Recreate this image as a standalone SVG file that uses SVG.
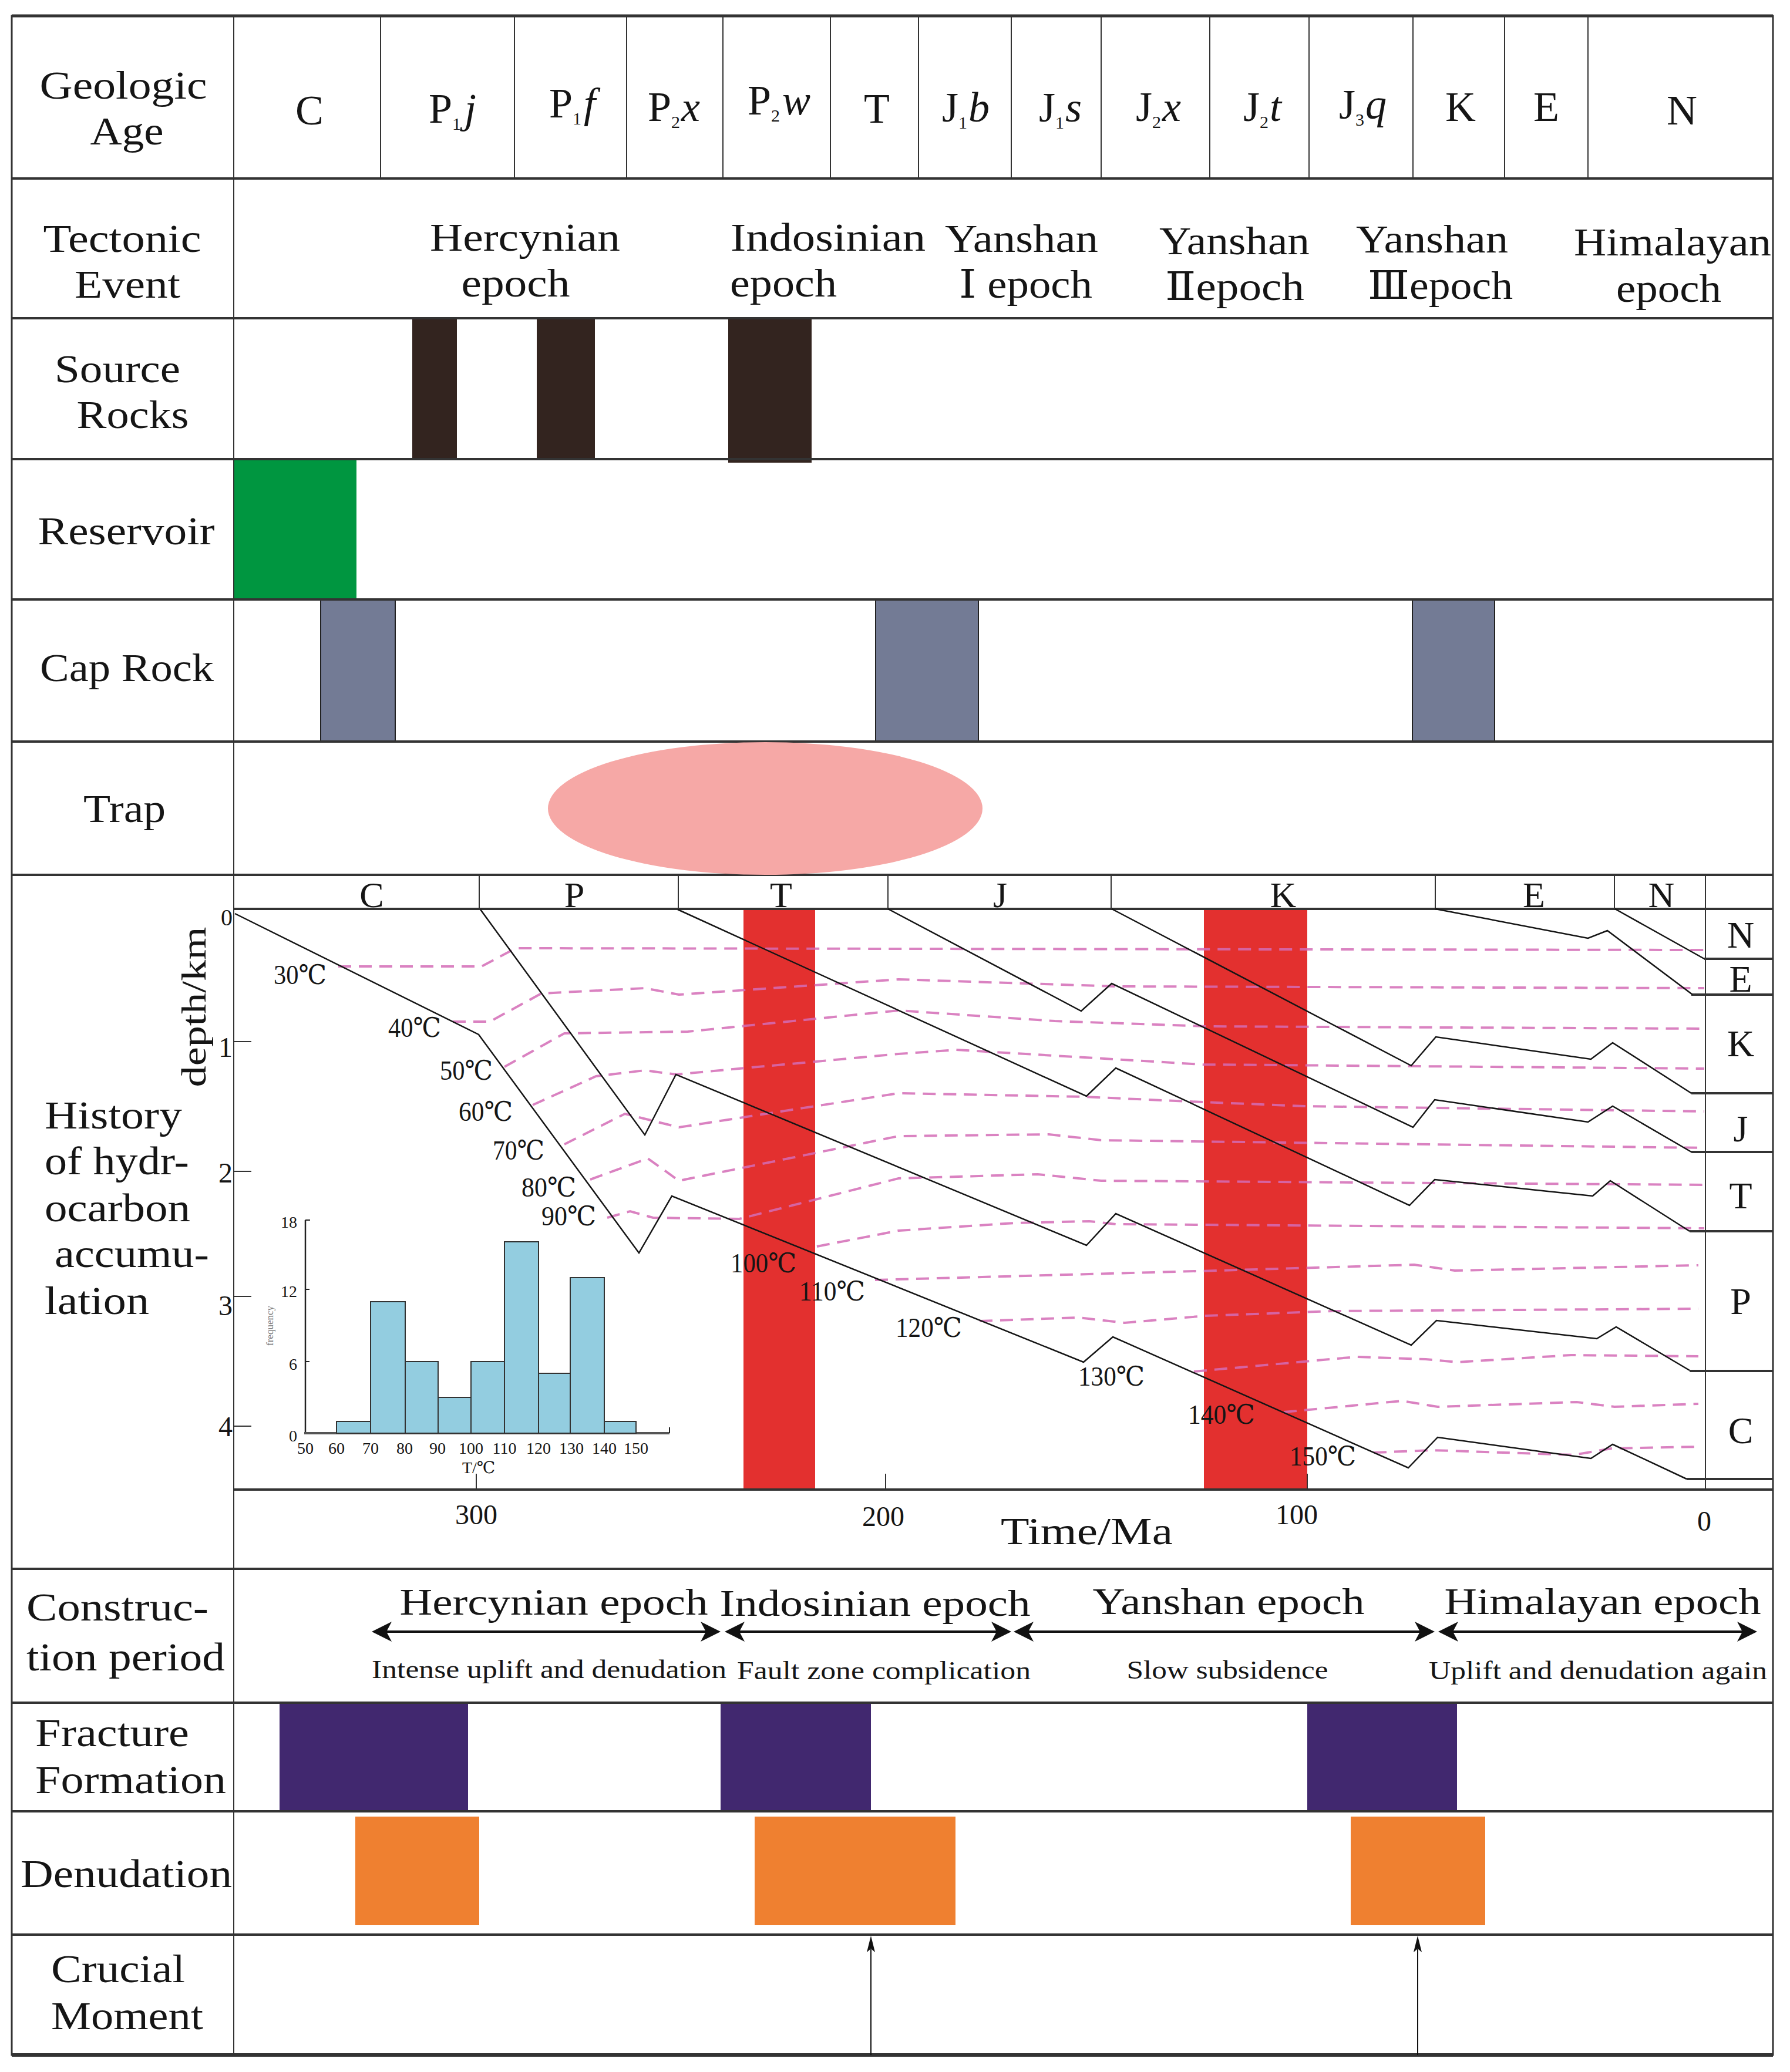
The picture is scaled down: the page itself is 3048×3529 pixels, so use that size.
<svg xmlns="http://www.w3.org/2000/svg" width="3048" height="3529" viewBox="0 0 3048 3529">
<style>
.t{font-family:"Liberation Serif","DejaVu Serif","Noto Sans CJK SC",serif;fill:#151515}
.L{font-size:68px}
.G{font-size:72px}
.s{font-size:30px}
.i{font-style:italic}
.tl{font-size:46px}
.cp{font-size:64px}
.cs{font-size:44px}
.ax{font-size:48px}
.hs{font-size:28px}
.grid{stroke:#333;fill:none}
.bur{stroke:#151515;stroke-width:2.5;fill:none}
.iso{stroke:#d46cb6;stroke-width:4;stroke-dasharray:22 13;fill:none;opacity:.85}
.bar{fill:#93cde0;stroke:#333;stroke-width:2}
.src{fill:#33241f}
.cap{fill:#737b95;stroke:#222;stroke-width:2}
.frac{fill:#41286f}
.den{fill:#ef8030}
.red{fill:#e3302f}
</style>
<defs>
<marker id="ah" viewBox="-16 -18 38 36" refX="0" refY="0" markerWidth="38" markerHeight="36" markerUnits="userSpaceOnUse" orient="auto-start-reverse"><path d="M20,0 L-14,-17 L-5,0 L-14,17 Z" fill="#111"/></marker>
<marker id="up" viewBox="-6 -8 30 16" refX="0" refY="0" markerWidth="30" markerHeight="16" markerUnits="userSpaceOnUse" orient="auto"><path d="M23,0 L-5,-7 L1,0 L-5,7 Z" fill="#111"/></marker>
</defs>
<rect width="3048" height="3529" fill="#fff"/>

<g id="source-rocks">
<rect class="src" x="702" y="543" width="76" height="239"/>
<rect class="src" x="914" y="543" width="99" height="239"/>
<rect class="src" x="1240" y="543" width="142" height="245"/>
</g>
<g id="reservoir"><rect x="398" y="782" width="209" height="239" fill="#009640"/></g>
<g id="cap-rock">
<rect class="cap" x="546" y="1022" width="127" height="240"/>
<rect class="cap" x="1491" y="1022" width="175" height="240"/>
<rect class="cap" x="2405" y="1022" width="140" height="240"/>
</g>
<g id="thermal-events">
<rect class="red" x="1266" y="1550" width="122" height="987"/>
<rect class="red" x="2050" y="1550" width="176" height="987"/>
</g>
<g id="fracture-formation">
<rect class="frac" x="476" y="2900" width="321" height="185"/>
<rect class="frac" x="1227" y="2900" width="256" height="185"/>
<rect class="frac" x="2226" y="2900" width="255" height="185"/>
</g>
<g id="denudation">
<rect class="den" x="605" y="3094" width="211" height="185"/>
<rect class="den" x="1285" y="3094" width="342" height="185"/>
<rect class="den" x="2300" y="3094" width="229" height="185"/>
</g>

<g id="grid">
<rect class="grid" x="20" y="27" width="2999" height="3473" stroke-width="3"/>
<line class="grid" x1="20" y1="27" x2="3019" y2="27" stroke-width="5"/>
<line class="grid" x1="20" y1="3500" x2="3019" y2="3500" stroke-width="6" stroke="#1a1a1a"/>
<g stroke-width="4" class="grid">
<line x1="20" y1="304" x2="3019" y2="304"/>
<line x1="20" y1="542" x2="3019" y2="542"/>
<line x1="20" y1="782" x2="3019" y2="782"/>
<line x1="20" y1="1021" x2="3019" y2="1021"/>
<line x1="20" y1="1263" x2="3019" y2="1263"/>
<line x1="20" y1="1490" x2="3019" y2="1490"/>
<line x1="20" y1="2672" x2="3019" y2="2672"/>
<line x1="20" y1="2900" x2="3019" y2="2900"/>
<line x1="20" y1="3085" x2="3019" y2="3085"/>
<line x1="20" y1="3295" x2="3019" y2="3295"/>
<line x1="398" y1="1548" x2="3019" y2="1548"/>
<line x1="398" y1="2537" x2="3019" y2="2537"/>
</g>
<line class="grid" x1="398" y1="27" x2="398" y2="3500" stroke-width="2"/>
<g class="grid" stroke-width="2">
<line x1="648" y1="27" x2="648" y2="304"/>
<line x1="876" y1="27" x2="876" y2="304"/>
<line x1="1067" y1="27" x2="1067" y2="304"/>
<line x1="1231" y1="27" x2="1231" y2="304"/>
<line x1="1414" y1="27" x2="1414" y2="304"/>
<line x1="1564" y1="27" x2="1564" y2="304"/>
<line x1="1722" y1="27" x2="1722" y2="304"/>
<line x1="1875" y1="27" x2="1875" y2="304"/>
<line x1="2060" y1="27" x2="2060" y2="304"/>
<line x1="2229" y1="27" x2="2229" y2="304"/>
<line x1="2406" y1="27" x2="2406" y2="304"/>
<line x1="2562" y1="27" x2="2562" y2="304"/>
<line x1="2704" y1="27" x2="2704" y2="304"/>
<line x1="816" y1="1490" x2="816" y2="1548"/>
<line x1="1155" y1="1490" x2="1155" y2="1548"/>
<line x1="1512" y1="1490" x2="1512" y2="1548"/>
<line x1="1892" y1="1490" x2="1892" y2="1548"/>
<line x1="2444" y1="1490" x2="2444" y2="1548"/>
<line x1="2749" y1="1490" x2="2749" y2="1548"/>
<line x1="2904" y1="1490" x2="2904" y2="2537"/>
<line x1="811" y1="2510" x2="811" y2="2537"/>
<line x1="1508" y1="2510" x2="1508" y2="2537"/>
<line x1="2226" y1="2510" x2="2226" y2="2537"/>
<line x1="398" y1="1774" x2="428" y2="1774"/>
<line x1="398" y1="1995" x2="428" y2="1995"/>
<line x1="398" y1="2208" x2="428" y2="2208"/>
<line x1="398" y1="2429" x2="428" y2="2429"/>
</g>
<g class="grid" stroke-width="4">
<line x1="2902" y1="1633" x2="3019" y2="1633"/>
<line x1="2880" y1="1694" x2="3019" y2="1694"/>
<line x1="2880" y1="1862" x2="3019" y2="1862"/>
<line x1="2880" y1="1962" x2="3019" y2="1962"/>
<line x1="2877" y1="2097" x2="3019" y2="2097"/>
<line x1="2877" y1="2335" x2="3019" y2="2335"/>
<line x1="2872" y1="2519" x2="3019" y2="2519"/>
</g>
</g>

<g id="trap"><ellipse cx="1303" cy="1377" rx="370" ry="113" fill="#f6a8a6"/></g>

<g id="isotherms">
<path class="iso" d="M576,1646 L820,1646 L878,1615 L2902,1618"/>
<path class="iso" d="M771,1740 L834,1740 L922,1692 L1098,1683 L1156,1694 L1530,1668 L1900,1680 L2902,1683"/>
<path class="iso" d="M859,1817 L961,1760 L1171,1757 L1530,1721 L1796,1739 L2053,1748 L2902,1752"/>
<path class="iso" d="M907,1882 L1015,1833 L1098,1823 L1151,1830 L1530,1795 L1628,1788 L2048,1813 L2902,1820"/>
<path class="iso" d="M961,1949 L1064,1897 L1156,1920 L1530,1862 L1845,1868 L2048,1877 L2221,1884 L2902,1893"/>
<path class="iso" d="M1005,2009 L1103,1973 L1156,2011 L1530,1935 L1786,1932 L1875,1942 L2902,1955"/>
<path class="iso" d="M1034,2074 L1073,2063 L1112,2074 L1259,2076 L1530,2007 L1767,2000 L1875,2011 L2902,2018"/>
<path class="iso" d="M1391,2123 L1530,2096 L1727,2083 L1855,2080 L1900,2085 L2902,2092"/>
<path class="iso" d="M1490,2180 L2073,2164 L2408,2154 L2477,2164 L2892,2155"/>
<path class="iso" d="M1668,2250 L1836,2244 L1915,2253 L2053,2241 L2270,2233 L2892,2229"/>
<path class="iso" d="M2033,2336 L2309,2311 L2428,2315 L2482,2320 L2675,2308 L2892,2310"/>
<path class="iso" d="M2186,2405 L2388,2386 L2448,2396 L2685,2388 L2749,2396 L2892,2391"/>
<path class="iso" d="M2339,2474 L2440,2470 L2680,2478 L2744,2467 L2892,2464"/>
</g>

<g id="burial-curves">
<path class="bur" d="M400,1556 L815,1762 L1088,2134 L1144,2037 L1845,2320 L1895,2277 L2398,2500 L2448,2448 L2709,2484 L2746,2460 L2872,2519"/>
<path class="bur" d="M818,1549 L1098,1933 L1151,1830 L1850,2121 L1900,2067 L2403,2291 L2446,2249 L2719,2280 L2752,2260 L2877,2334"/>
<path class="bur" d="M1154,1549 L1850,1867 L1900,1819 L2400,2053 L2443,2009 L2712,2037 L2742,2011 L2877,2097"/>
<path class="bur" d="M1512,1548 L1841,1722 L1893,1675 L2406,1920 L2443,1873 L2704,1911 L2746,1884 L2880,1962"/>
<path class="bur" d="M1893,1548 L2403,1815 L2445,1766 L2709,1804 L2746,1776 L2880,1862"/>
<path class="bur" d="M2444,1548 L2704,1598 L2737,1585 L2882,1694"/>
<path class="bur" d="M2750,1548 L2902,1633"/>
</g>

<g id="histogram">
<line x1="520" y1="2078" x2="520" y2="2441" stroke="#222" stroke-width="2.5"/>
<line x1="518" y1="2441" x2="1140" y2="2441" stroke="#555" stroke-width="4"/>
<line x1="1140" y1="2431" x2="1140" y2="2441" stroke="#222" stroke-width="2"/>
<g stroke="#222" stroke-width="2"><line x1="520" y1="2078" x2="528" y2="2078"/><line x1="520" y1="2196" x2="527" y2="2196"/><line x1="520" y1="2319" x2="527" y2="2319"/></g>
<rect class="bar" x="573" y="2421" width="58" height="20"/>
<rect class="bar" x="631" y="2217" width="59" height="224"/>
<rect class="bar" x="690" y="2319" width="56" height="122"/>
<rect class="bar" x="746" y="2380" width="56" height="61"/>
<rect class="bar" x="802" y="2319" width="57" height="122"/>
<rect class="bar" x="859" y="2115" width="58" height="326"/>
<rect class="bar" x="917" y="2339" width="54" height="102"/>
<rect class="bar" x="971" y="2176" width="58" height="265"/>
<rect class="bar" x="1029" y="2421" width="54" height="20"/>
<g class="t hs" text-anchor="end"><text x="506" y="2455">0</text><text x="506" y="2333">6</text><text x="506" y="2209">12</text><text x="506" y="2091">18</text></g>
<g class="t hs" text-anchor="middle">
<text x="520" y="2476">50</text><text x="573" y="2476">60</text><text x="631" y="2476">70</text><text x="689" y="2476">80</text><text x="745" y="2476">90</text><text x="802" y="2476">100</text><text x="859" y="2476">110</text><text x="917" y="2476">120</text><text x="973" y="2476">130</text><text x="1029" y="2476">140</text><text x="1083" y="2476">150</text>
<text x="815" y="2509">T/℃</text>
</g>
<text class="t" x="0" y="0" font-size="17" style="fill:#777" text-anchor="middle" transform="translate(465,2258) rotate(-90)">frequency</text>
</g>

<g id="construction-period">
<text class="t cp" x="943" y="2750" text-anchor="middle" textLength="525" lengthAdjust="spacingAndGlyphs">Hercynian epoch</text>
<text class="t cp" x="1490" y="2752" text-anchor="middle" textLength="529" lengthAdjust="spacingAndGlyphs">Indosinian epoch</text>
<text class="t cp" x="2092" y="2749" text-anchor="middle" textLength="463" lengthAdjust="spacingAndGlyphs">Yanshan epoch</text>
<text class="t cp" x="2729" y="2749" text-anchor="middle" textLength="539" lengthAdjust="spacingAndGlyphs">Himalayan epoch</text>
<text class="t cs" x="935" y="2858" text-anchor="middle" textLength="604" lengthAdjust="spacingAndGlyphs">Intense uplift and denudation</text>
<text class="t cs" x="1505" y="2860" text-anchor="middle" textLength="500" lengthAdjust="spacingAndGlyphs">Fault zone complication</text>
<text class="t cs" x="2090" y="2859" text-anchor="middle" textLength="343" lengthAdjust="spacingAndGlyphs">Slow subsidence</text>
<text class="t cs" x="2721" y="2860" text-anchor="middle" textLength="576" lengthAdjust="spacingAndGlyphs">Uplift and denudation again</text>
</g>

<g id="connectors" stroke="#111" fill="none">
<line x1="653" y1="2779" x2="1207" y2="2779" stroke-width="4" marker-start="url(#ah)" marker-end="url(#ah)"/>
<line x1="1254" y1="2779" x2="1702" y2="2779" stroke-width="4" marker-start="url(#ah)" marker-end="url(#ah)"/>
<line x1="1746" y1="2779" x2="2423" y2="2779" stroke-width="4" marker-start="url(#ah)" marker-end="url(#ah)"/>
<line x1="2469" y1="2779" x2="2972" y2="2779" stroke-width="4" marker-start="url(#ah)" marker-end="url(#ah)"/>
<line x1="1483" y1="3500" x2="1483" y2="3320" stroke-width="2" marker-end="url(#up)"/>
<line x1="2414" y1="3500" x2="2414" y2="3320" stroke-width="2" marker-end="url(#up)"/>
</g>

<g id="geologic-age">
<text class="t G" x="527" y="212" text-anchor="middle">C</text>
<text class="t G" x="730" y="209">P<tspan class="s" dy="12">1</tspan><tspan class="i" dx="6" dy="-12">j</tspan></text>
<text class="t G" x="935" y="200">P<tspan class="s" dy="12">1</tspan><tspan class="i" dx="4" dy="-12">f</tspan></text>
<text class="t G" x="1103" y="206">P<tspan class="s" dy="12">2</tspan><tspan class="i" dx="2" dy="-12">x</tspan></text>
<text class="t G" x="1273" y="195">P<tspan class="s" dy="12">2</tspan><tspan class="i" dx="4" dy="-12">w</tspan></text>
<text class="t G" x="1493" y="209" text-anchor="middle">T</text>
<text class="t G" x="1604" y="207">J<tspan class="s" dy="12">1</tspan><tspan class="i" dx="2" dy="-12">b</tspan></text>
<text class="t G" x="1769" y="207">J<tspan class="s" dy="12">1</tspan><tspan class="i" dx="2" dy="-12">s</tspan></text>
<text class="t G" x="1934" y="206">J<tspan class="s" dy="12">2</tspan><tspan class="i" dx="2" dy="-12">x</tspan></text>
<text class="t G" x="2117" y="206">J<tspan class="s" dy="12">2</tspan><tspan class="i" dx="2" dy="-12">t</tspan></text>
<text class="t G" x="2280" y="202">J<tspan class="s" dy="12">3</tspan><tspan class="i" dx="2" dy="-12">q</tspan></text>
<text class="t G" x="2487" y="206" text-anchor="middle">K</text>
<text class="t G" x="2633" y="206" text-anchor="middle">E</text>
<text class="t G" x="2864" y="212" text-anchor="middle">N</text>
</g>

<g id="tectonic-event">
<text class="t L" x="894" y="427" text-anchor="middle" textLength="324" lengthAdjust="spacingAndGlyphs">Hercynian</text>
<text class="t L" x="878" y="505" text-anchor="middle" textLength="185" lengthAdjust="spacingAndGlyphs">epoch</text>
<text class="t L" x="1244" y="427" textLength="332" lengthAdjust="spacingAndGlyphs">Indosinian</text>
<text class="t L" x="1243" y="505" textLength="182" lengthAdjust="spacingAndGlyphs">epoch</text>
<text class="t L" x="1609" y="429" textLength="261" lengthAdjust="spacingAndGlyphs">Yanshan</text>
<text class="t L" x="1633" y="507" textLength="227" lengthAdjust="spacingAndGlyphs">Ⅰ epoch</text>
<text class="t L" x="1974" y="433" textLength="256" lengthAdjust="spacingAndGlyphs">Yanshan</text>
<text class="t L" x="1984" y="511" textLength="237" lengthAdjust="spacingAndGlyphs">Ⅱepoch</text>
<text class="t L" x="2309" y="430" textLength="259" lengthAdjust="spacingAndGlyphs">Yanshan</text>
<text class="t L" x="2329" y="509" textLength="247" lengthAdjust="spacingAndGlyphs">Ⅲepoch</text>
<text class="t L" x="2680" y="435" textLength="336" lengthAdjust="spacingAndGlyphs">Himalayan</text>
<text class="t L" x="2752" y="514" textLength="179" lengthAdjust="spacingAndGlyphs">epoch</text>
</g>

<g id="row-labels">
<text class="t L" x="210" y="168" text-anchor="middle" textLength="285" lengthAdjust="spacingAndGlyphs">Geologic</text>
<text class="t L" x="216" y="246" text-anchor="middle" textLength="125" lengthAdjust="spacingAndGlyphs">Age</text>
<text class="t L" x="208" y="429" text-anchor="middle" textLength="269" lengthAdjust="spacingAndGlyphs">Tectonic</text>
<text class="t L" x="217" y="507" text-anchor="middle" textLength="180" lengthAdjust="spacingAndGlyphs">Event</text>
<text class="t L" x="200" y="651" text-anchor="middle" textLength="214" lengthAdjust="spacingAndGlyphs">Source</text>
<text class="t L" x="226" y="729" text-anchor="middle" textLength="191" lengthAdjust="spacingAndGlyphs">Rocks</text>
<text class="t L" x="215" y="927" text-anchor="middle" textLength="301" lengthAdjust="spacingAndGlyphs">Reservoir</text>
<text class="t L" x="216" y="1160" text-anchor="middle" textLength="296" lengthAdjust="spacingAndGlyphs">Cap Rock</text>
<text class="t L" x="212" y="1400" text-anchor="middle" textLength="140" lengthAdjust="spacingAndGlyphs">Trap</text>
<text class="t L" x="76" y="1922" textLength="234" lengthAdjust="spacingAndGlyphs">History</text>
<text class="t L" x="76" y="2000" textLength="246" lengthAdjust="spacingAndGlyphs">of hydr-</text>
<text class="t L" x="76" y="2080" textLength="248" lengthAdjust="spacingAndGlyphs">ocarbon</text>
<text class="t L" x="93" y="2158" textLength="263" lengthAdjust="spacingAndGlyphs">accumu-</text>
<text class="t L" x="76" y="2238" textLength="178" lengthAdjust="spacingAndGlyphs">lation</text>
<text class="t L" x="45" y="2760" textLength="310" lengthAdjust="spacingAndGlyphs">Construc-</text>
<text class="t L" x="45" y="2845" textLength="338" lengthAdjust="spacingAndGlyphs">tion period</text>
<text class="t L" x="60" y="2974" textLength="262" lengthAdjust="spacingAndGlyphs">Fracture</text>
<text class="t L" x="60" y="3054" textLength="325" lengthAdjust="spacingAndGlyphs">Formation</text>
<text class="t L" x="35" y="3214" textLength="360" lengthAdjust="spacingAndGlyphs">Denudation</text>
<text class="t L" x="87" y="3376" textLength="228" lengthAdjust="spacingAndGlyphs">Crucial</text>
<text class="t L" x="87" y="3456" textLength="259" lengthAdjust="spacingAndGlyphs">Moment</text>
</g>

<g id="history-axes">
<g class="t" font-size="62" text-anchor="middle">
<text x="633" y="1545">C</text><text x="978" y="1545">P</text><text x="1330" y="1545">T</text><text x="1703" y="1545">J</text><text x="2185" y="1545">K</text><text x="2612" y="1545">E</text><text x="2829" y="1545">N</text>
</g>
<g class="t" font-size="64" text-anchor="middle">
<text x="2964" y="1614">N</text><text x="2964" y="1689">E</text><text x="2964" y="1799">K</text><text x="2964" y="1944">J</text><text x="2964" y="2058">T</text><text x="2964" y="2238">P</text><text x="2964" y="2458">C</text>
</g>
<g class="t ax" text-anchor="end">
<text x="396" y="1576" font-size="40">0</text><text x="396" y="1800">1</text><text x="396" y="2014">2</text><text x="396" y="2240">3</text><text x="396" y="2446">4</text>
</g>
<text class="t" font-size="60" text-anchor="middle" textLength="273" lengthAdjust="spacingAndGlyphs" transform="translate(350,1715) rotate(-90)">depth/km</text>
<g class="t ax" text-anchor="middle">
<text x="811" y="2596">300</text><text x="1504" y="2599">200</text><text x="2208" y="2596">100</text><text x="2902" y="2607">0</text>
</g>
<text class="t" font-size="66" x="1704" y="2630" textLength="293" lengthAdjust="spacingAndGlyphs">Time/Ma</text>
</g>

<g id="isotherm-labels" class="t tl">
<text x="466" y="1676" textLength="90" lengthAdjust="spacingAndGlyphs">30℃</text>
<text x="661" y="1766" textLength="90" lengthAdjust="spacingAndGlyphs">40℃</text>
<text x="749" y="1839" textLength="90" lengthAdjust="spacingAndGlyphs">50℃</text>
<text x="781" y="1909" textLength="92" lengthAdjust="spacingAndGlyphs">60℃</text>
<text x="839" y="1975" textLength="88" lengthAdjust="spacingAndGlyphs">70℃</text>
<text x="888" y="2038" textLength="93" lengthAdjust="spacingAndGlyphs">80℃</text>
<text x="922" y="2087" textLength="93" lengthAdjust="spacingAndGlyphs">90℃</text>
<text x="1244" y="2167" textLength="112" lengthAdjust="spacingAndGlyphs">100℃</text>
<text x="1361" y="2215" textLength="112" lengthAdjust="spacingAndGlyphs">110℃</text>
<text x="1525" y="2277" textLength="113" lengthAdjust="spacingAndGlyphs">120℃</text>
<text x="1836" y="2360" textLength="113" lengthAdjust="spacingAndGlyphs">130℃</text>
<text x="2023" y="2425" textLength="114" lengthAdjust="spacingAndGlyphs">140℃</text>
<text x="2196" y="2496" textLength="113" lengthAdjust="spacingAndGlyphs">150℃</text>
</g>
</svg>
